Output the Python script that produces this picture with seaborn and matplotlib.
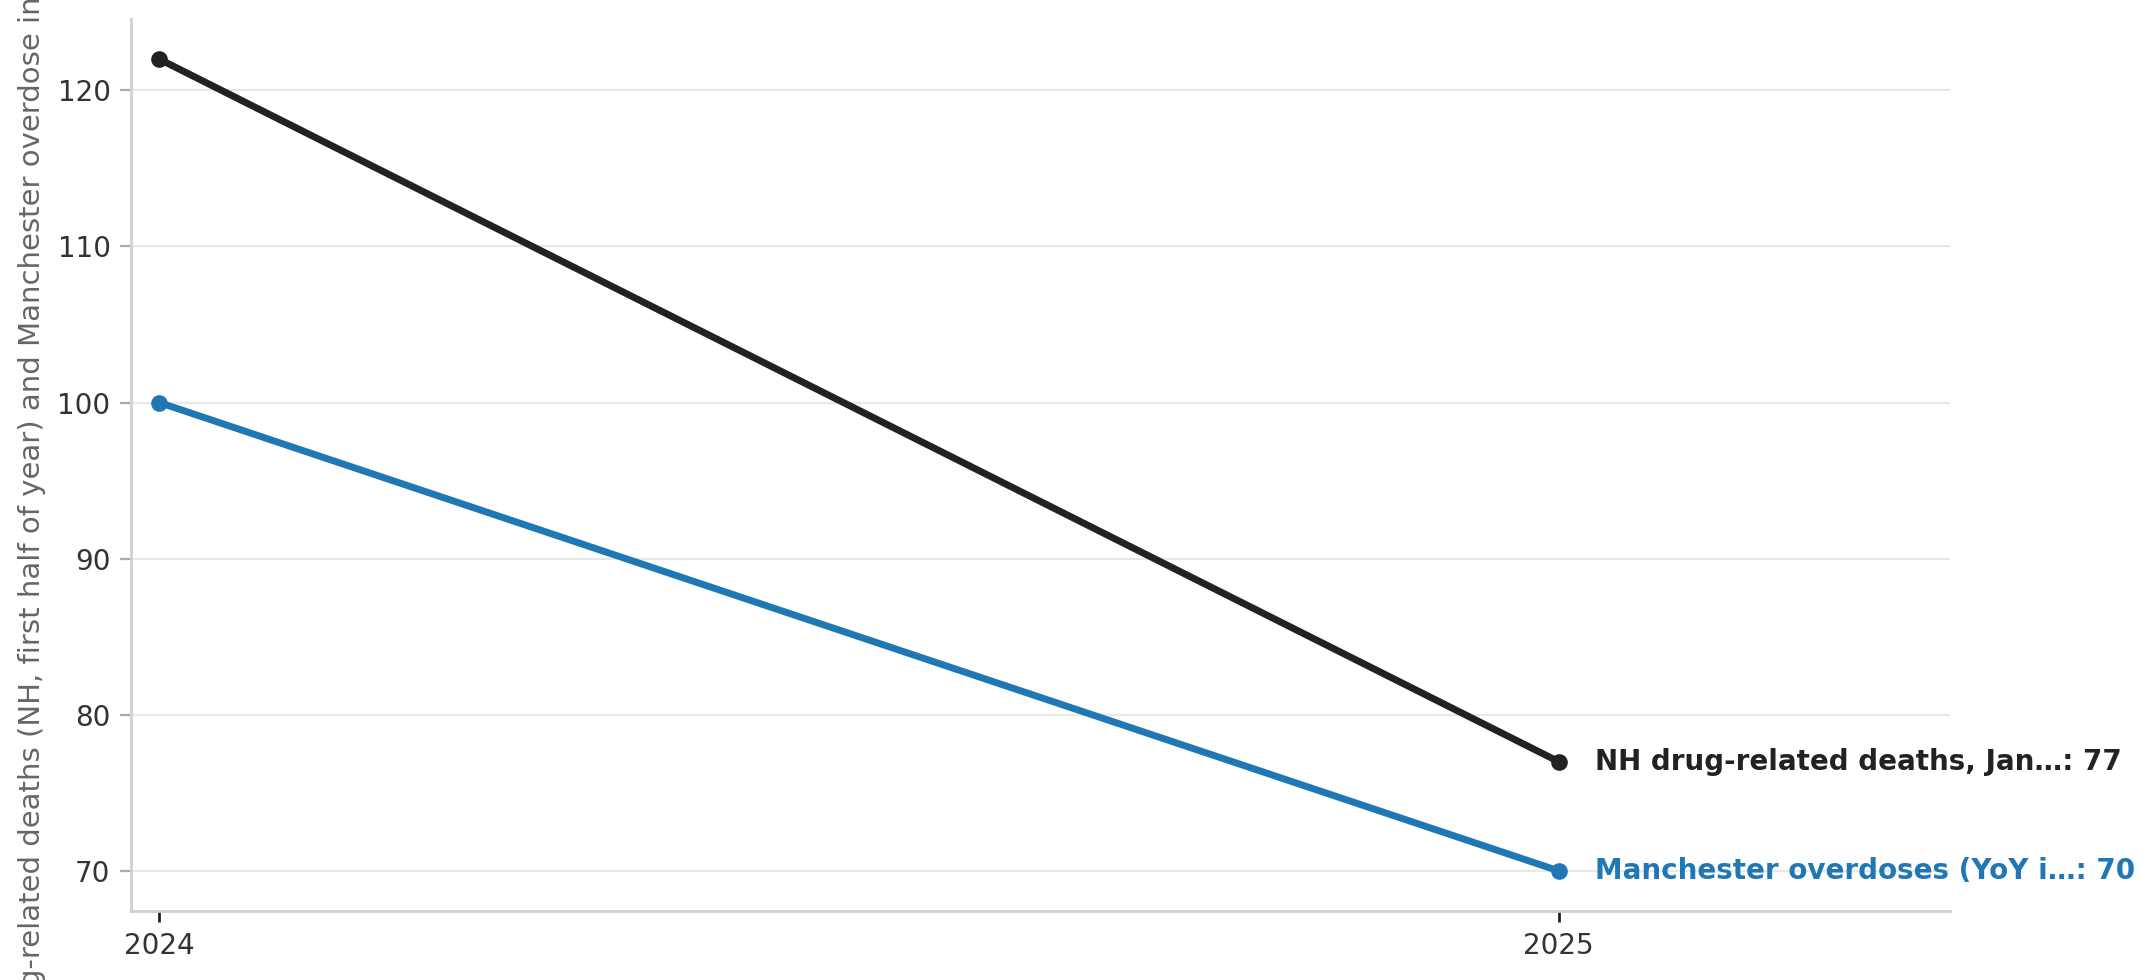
import pandas as pd
import matplotlib
matplotlib.use("Agg")
import matplotlib.pyplot as plt
import seaborn as sns

years = [2024, 2025]
nh_deaths = [122, 77]
manchester_overdoses = [100, 70]
series_names = ["NH drug-related deaths, Jan…", "Manchester overdoses (YoY i…"]
series_colors = ["#222222", "#1f77b4"]

df = pd.DataFrame({
    "year": years * 2,
    "value": nh_deaths + manchester_overdoses,
    "series": [series_names[0]] * 2 + [series_names[1]] * 2,
})

sns.set_style("white")
plt.rcParams['font.family'] = ['DejaVu Sans']

fig = plt.figure(figsize=(10.775, 4.9), dpi=200)
ax = fig.add_axes([0.061, 0.07, 0.844, 0.911])

sns.lineplot(data=df, x="year", y="value", hue="series", palette=series_colors,
             marker="o", markersize=6, markeredgewidth=0, linewidth=2.5,
             legend=False, ax=ax)

# end labels
for name, vals, c in zip(series_names, [nh_deaths, manchester_overdoses], series_colors):
    ax.annotate(f"{name}: {vals[-1]}", xy=(years[-1], vals[-1]), xytext=(13, 0),
                textcoords="offset points", va="center", ha="left",
                fontsize=10, fontweight="bold", color=c, annotation_clip=False)

ax.set_xlim(2023.98, 2025.28)
ax.set_xticks(years)
ax.set_xticklabels([str(y) for y in years])
ax.set_xlabel("")
ax.set_ylabel("Drug-related deaths (NH, first half of year) and Manchester overdose incidents",
              fontsize=10.5, color="#666666")

ax.yaxis.grid(True, color="#e8e8e8", linewidth=0.8)
ax.set_axisbelow(True)
sns.despine(ax=ax)
for s in ["left", "bottom"]:
    ax.spines[s].set_color("#d0d0d0")
    ax.spines[s].set_linewidth(1)

ax.tick_params(axis="both", labelsize=10, labelcolor="#333333")
ax.tick_params(axis="y", left=True, color="#aaaaaa", length=4, width=0.8)
ax.tick_params(axis="x", bottom=True, color="#222222", length=4, width=1)

fig.savefig("out.png", dpi=200)
